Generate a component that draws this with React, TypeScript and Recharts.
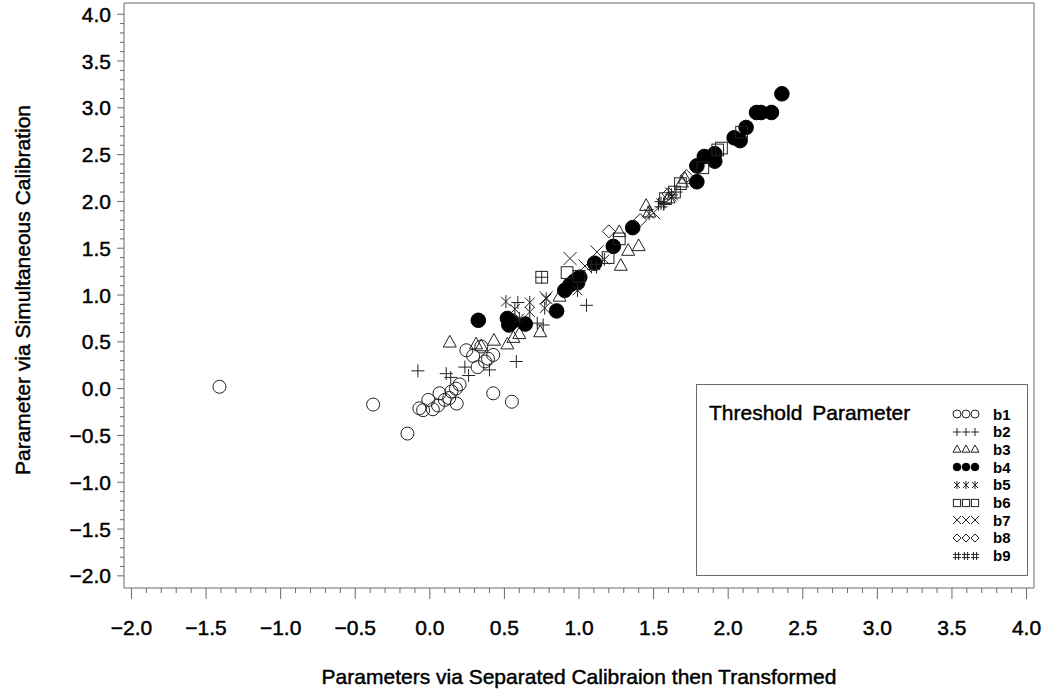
import { ScatterChart, Scatter, XAxis, YAxis, ReferenceArea, Label } from 'recharts'

// threshold parameter estimates: [separate calibration (transformed), simultaneous calibration]
const b1: [number, number][] = [
  [-1.41, 0.02], [-0.38, -0.17], [-0.15, -0.48], [-0.07, -0.21], [-0.045, -0.23], [-0.01, -0.12],
  [0.02, -0.22], [0.055, -0.18], [0.065, -0.05], [0.1, -0.12], [0.13, -0.1], [0.145, -0.03],
  [0.18, -0.16], [0.175, 0.0], [0.2, 0.045], [0.245, 0.41], [0.29, 0.35], [0.32, 0.23],
  [0.345, 0.45], [0.37, 0.29], [0.39, 0.32], [0.425, 0.36], [0.425, -0.05], [0.55, -0.14],
]
const b2: [number, number][] = [
  [-0.08, 0.19], [0.11, 0.16], [0.14, 0.12], [0.235, 0.23], [0.26, 0.14], [0.4, 0.2],
  [0.58, 0.29], [0.59, 0.92], [0.76, 0.68], [1.05, 0.89], [0.72, 0.7], [0.75, 1.19],
  [1.57, 1.98], [1.62, 2.07], [1.65, 2.1],
]
const b3: [number, number][] = [
  [0.134, 0.5], [0.31, 0.48], [0.345, 0.46], [0.43, 0.52], [0.52, 0.48], [0.56, 0.55],
  [0.6, 0.59], [0.74, 0.61], [0.87, 0.99], [1.28, 1.32], [1.33, 1.48], [1.4, 1.53],
  [1.27, 1.68], [1.45, 1.96], [1.47, 1.89], [1.6, 2.04], [1.69, 2.21], [1.71, 2.25],
]
const b4: [number, number][] = [
  [0.325, 0.73], [0.52, 0.75], [0.53, 0.68], [0.55, 0.71], [0.64, 0.69], [0.85, 0.83],
  [0.905, 1.05], [0.94, 1.11], [0.97, 1.15], [0.99, 1.13], [1.005, 1.19], [1.105, 1.34],
  [1.23, 1.52], [1.36, 1.72], [1.79, 2.21], [1.79, 2.38], [1.84, 2.48], [1.91, 2.51],
  [1.91, 2.43], [2.04, 2.68], [2.08, 2.65], [2.12, 2.79], [2.19, 2.95], [2.22, 2.95],
  [2.29, 2.95], [2.36, 3.15],
]
const b5: [number, number][] = [
  [0.51, 0.93], [0.57, 0.85], [0.6, 0.75], [0.67, 0.92], [0.67, 0.82], [0.77, 0.86],
  [0.78, 0.96], [0.99, 1.05], [1.17, 1.38], [1.47, 1.87], [1.55, 1.98], [1.62, 2.05],
]
const b6: [number, number][] = [
  [0.75, 1.19], [0.92, 1.24], [1.0, 1.2], [1.195, 1.4], [1.27, 1.6], [1.58, 2.03],
  [1.64, 2.1], [1.68, 2.19], [1.83, 2.36], [1.93, 2.55], [1.955, 2.57], [2.09, 2.74],
]
const b7: [number, number][] = [
  [0.78, 0.97], [0.94, 1.39], [1.04, 1.31], [1.12, 1.46], [1.5, 1.88], [1.62, 2.08],
]
const b8: [number, number][] = [
  [1.2, 1.68], [1.41, 1.8], [1.6, 2.08], [1.72, 2.27],
]
const b9: [number, number][] = [
  [1.1, 1.3], [1.55, 1.97],
]

const seriesNames = ['b1', 'b2', 'b3', 'b4', 'b5', 'b6', 'b7', 'b8', 'b9']
const seriesKinds = ['circle', 'plus', 'triangle', 'dot', 'star', 'square', 'cross', 'diamond', 'hash']
const seriesData = [b1, b2, b3, b4, b5, b6, b7, b8, b9]

const xMajorTicks = [-2, -1.5, -1, -0.5, 0, 0.5, 1, 1.5, 2, 2.5, 3, 3.5, 4]
const yMajorTicks = [-2, -1.5, -1, -0.5, 0, 0.5, 1, 1.5, 2, 2.5, 3, 3.5, 4]

const FONT = '"Liberation Sans", Arial, Helvetica, sans-serif'
const AXIS = '#6a6a6a'
const INK = '#222'
const TEXT = { fontSize: 21, fontFamily: FONT, fill: '#000', stroke: '#000', strokeWidth: 0.45 }

const withMinor = (major: number[]) =>
  major.flatMap((v, i) =>
    i === major.length - 1 ? [v] : [0, 1, 2, 3, 4].map((k) => +(v + (k * (major[i + 1] - v)) / 5).toFixed(2))
  )
const isMajor = (v: number) => Math.abs(v * 2 - Math.round(v * 2)) < 1e-6
const fmt = (v: number) => (v < 0 ? '\u2212' + Math.abs(v).toFixed(1) : v.toFixed(1))

function Marker({ kind, cx, cy, s }: { kind: string; cx: number; cy: number; s: number }) {
  const p = { stroke: INK, strokeWidth: 1, fill: 'none' }
  switch (kind) {
    case 'circle':
      return <circle cx={cx} cy={cy} r={s} {...p} />
    case 'dot':
      return <circle cx={cx} cy={cy} r={s + 0.8} fill="#000" stroke="#000" />
    case 'plus':
      return <path d={`M${cx - s},${cy}H${cx + s}M${cx},${cy - s}V${cy + s}`} {...p} />
    case 'triangle':
      return <polygon points={`${cx},${cy - s} ${cx - s},${cy + s * 0.8} ${cx + s},${cy + s * 0.8}`} {...p} />
    case 'star': {
      const d = s * 0.75
      return <path d={`M${cx},${cy - s}V${cy + s}M${cx - d},${cy - d}L${cx + d},${cy + d}M${cx - d},${cy + d}L${cx + d},${cy - d}`} {...p} />
    }
    case 'square':
      return <rect x={cx - s * 0.9} y={cy - s * 0.9} width={s * 1.8} height={s * 1.8} {...p} />
    case 'cross':
      return <path d={`M${cx - s},${cy - s}L${cx + s},${cy + s}M${cx - s},${cy + s}L${cx + s},${cy - s}`} {...p} />
    case 'diamond':
      return <polygon points={`${cx},${cy - s} ${cx + s},${cy} ${cx},${cy + s} ${cx - s},${cy}`} {...p} />
    default: {
      const a = s * 0.4
      return <path d={`M${cx - a},${cy - s}V${cy + s}M${cx + a},${cy - s}V${cy + s}M${cx - s},${cy - a}H${cx + s}M${cx - s},${cy + a}H${cx + s}`} {...p} />
    }
  }
}

function XTick({ x, y, payload }: any) {
  const v = payload.value
  const major = isMajor(v)
  return (
    <g>
      <line x1={x} x2={x} y1={y} y2={y + (major ? 11 : 5)} stroke={AXIS} />
      {major && (
        <text x={x} y={y + 47} textAnchor="middle" {...TEXT}>
          {fmt(v)}
        </text>
      )}
    </g>
  )
}

function YTick({ x, y, payload }: any) {
  const v = payload.value
  const major = isMajor(v)
  return (
    <g>
      <line x1={x - (major ? 7 : 4)} x2={x} y1={y} y2={y} stroke={AXIS} />
      {major && (
        <text x={x - 13} y={y + 7.5} textAnchor="end" {...TEXT}>
          {fmt(v)}
        </text>
      )}
    </g>
  )
}

function LegendBox() {
  return (
    <div
      style={{
        position: 'absolute', left: 696, top: 384, width: 330, height: 190,
        border: `1px solid ${AXIS}`, background: '#fff', fontFamily: FONT,
      }}
    >
      <div style={{ position: 'absolute', left: 12, top: 16, fontSize: 21, lineHeight: '24px', color: '#000', WebkitTextStroke: '0.45px #000', wordSpacing: 4 }}>
        Threshold Parameter
      </div>
      {seriesNames.map((name, i) => (
        <div key={name} style={{ position: 'absolute', left: 254, top: 20 + i * 17.7, height: 18, display: 'flex', alignItems: 'center' }}>
          <svg width={34} height={18}>
            {[0, 1, 2].map((k) => (
              <Marker key={k} kind={seriesKinds[i]} cx={6 + k * 9} cy={9} s={seriesKinds[i] === 'dot' ? 3 : 4} />
            ))}
          </svg>
          <span style={{ marginLeft: 8, fontSize: 15, fontWeight: 'bold', color: '#000' }}>{name}</span>
        </div>
      ))}
    </div>
  )
}

export default function App() {
  return (
    <div style={{ position: 'absolute', left: 0, top: 0, width: 1050, height: 696, background: '#fff' }}>
      <ScatterChart width={1050} height={696} margin={{ top: 3, right: 16, bottom: 78, left: 64 }}>
        <XAxis
          type="number" dataKey="x" domain={[-2.05, 4.05]} ticks={withMinor(xMajorTicks)} interval={0}
          axisLine={false} tickLine={false} tickSize={0} tickMargin={0} tick={<XTick />} height={30}
        >
          <Label
            content={() => (
              <text x={579} y={684} textAnchor="middle" {...TEXT}>
                Parameters via Separated Calibraion then Transformed
              </text>
            )}
          />
        </XAxis>
        <YAxis
          type="number" dataKey="y" domain={[-2.13, 4.12]} ticks={withMinor(yMajorTicks)} interval={0}
          axisLine={false} tickLine={false} tickSize={0} tickMargin={0} tick={<YTick />} width={60}
        >
          <Label
            content={() => (
              <text transform="rotate(-90)" x={-290} y={30} textAnchor="middle" {...TEXT}>
                Parameter via Simultaneous Calibration
              </text>
            )}
          />
        </YAxis>
        <ReferenceArea x1={-2.05} x2={4.05} y1={-2.13} y2={4.12} fill="none" stroke={AXIS} strokeWidth={1} />
        {seriesData.map((pts, i) => (
          <Scatter
            key={seriesNames[i]}
            name={seriesNames[i]}
            data={pts.map(([x, y]) => ({ x, y }))}
            isAnimationActive={false}
            shape={(props: any) => (
              <Marker kind={seriesKinds[i]} cx={props.cx} cy={props.cy} s={6.5} />
            )}
          />
        ))}
      </ScatterChart>
      <LegendBox />
    </div>
  )
}
